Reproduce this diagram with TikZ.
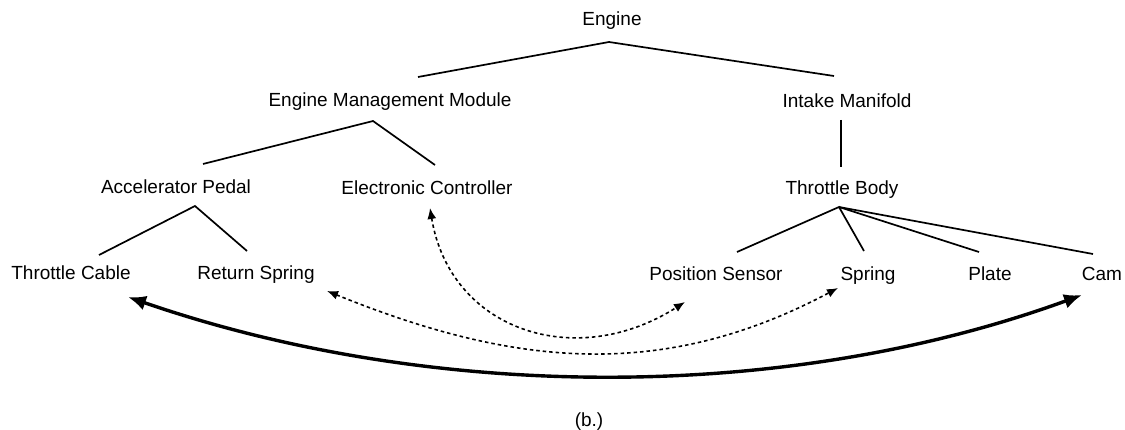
\documentclass[tikz,border=0pt]{standalone}
\usepackage{fontspec}
\setmainfont{Liberation Sans}
\usetikzlibrary{arrows.meta}
\begin{document}
\begin{tikzpicture}[x=1pt,y=-1pt,
  lbl/.style={anchor=base,inner sep=0pt,outer sep=0pt,text height=14pt,text depth=4pt,font=\fontsize{19}{22}\selectfont},
  tree/.style={line width=1.7pt},
  dotarrow/.style={line width=1.6pt,dash pattern=on 3.5pt off 3pt,{Latex[length=11pt,width=9pt]}-{Latex[length=11pt,width=9pt]}},
  thickarrow/.style={line width=3.4pt,{Latex[length=18pt,width=15pt]}-{Latex[length=18pt,width=15pt]}}]
\useasboundingbox (0,0) rectangle (1125,430);
\node[lbl] (eng) at (612,26) {Engine};
\node[lbl] (emm) at (390,107) {Engine Management Module};
\node[lbl] (im) at (847,108) {Intake Manifold};
\node[lbl] (ap) at (176,194) {Accelerator Pedal};
\node[lbl] (ec) at (427,195) {Electronic Controller};
\node[lbl] (tb) at (842,195) {Throttle Body};
\node[lbl] (tc) at (71,280) {Throttle Cable};
\node[lbl] (rs) at (256,280) {Return Spring};
\node[lbl] (ps) at (716,281) {Position Sensor};
\node[lbl] (sp) at (868,281) {Spring};
\node[lbl] (pl) at (990,281) {Plate};
\node[lbl] (cam) at (1102,281) {Cam};
\node[lbl] (cap) at (589,426) {(b.)};
% tree
\draw[tree] ([shift={(28,-16)}]emm.north) -- ([shift={(-3,12)}]eng.south) -- ([shift={(-13,-18)}]im.north);
\draw[tree] ([shift={(27,-16)}]ap.north) -- ([shift={(-17,10)}]emm.south) -- ([shift={(8,-16)}]ec.north);
\draw[tree] ([shift={(-6,8)}]im.south) -- ([shift={(-1,-14)}]tb.north);
\draw[tree] ([shift={(28,-11)}]tc.north) -- ([shift={(19,8)}]ap.south) -- ([shift={(-9,-15)}]rs.north);
\draw[tree] ([shift={(21,-15)}]ps.north) -- ([shift={(-3,8)}]tb.south) -- ([shift={(-4,-16)}]sp.north);
\draw[tree] ([shift={(-3,8)}]tb.south) -- ([shift={(-11,-15)}]pl.north);
\draw[tree] ([shift={(-3,8)}]tb.south) -- ([shift={(-9,-13)}]cam.north);
% cross links
\draw[dotarrow] ([shift={(3,9)}]ec.south) .. controls +(20,122) and +(-110,70) .. ([shift={(-31,17)}]ps.south);
\draw[dotarrow] ([shift={(71,7)}]rs.south) .. controls +(185,75) and +(-177,94) .. ([shift={(-30,3)}]sp.south);
\draw[thickarrow] ([shift={(57,13)}]tc.south) .. controls +(301,104) and +(-299,109) .. ([shift={(-20,10)}]cam.south);
\end{tikzpicture}
\end{document}
